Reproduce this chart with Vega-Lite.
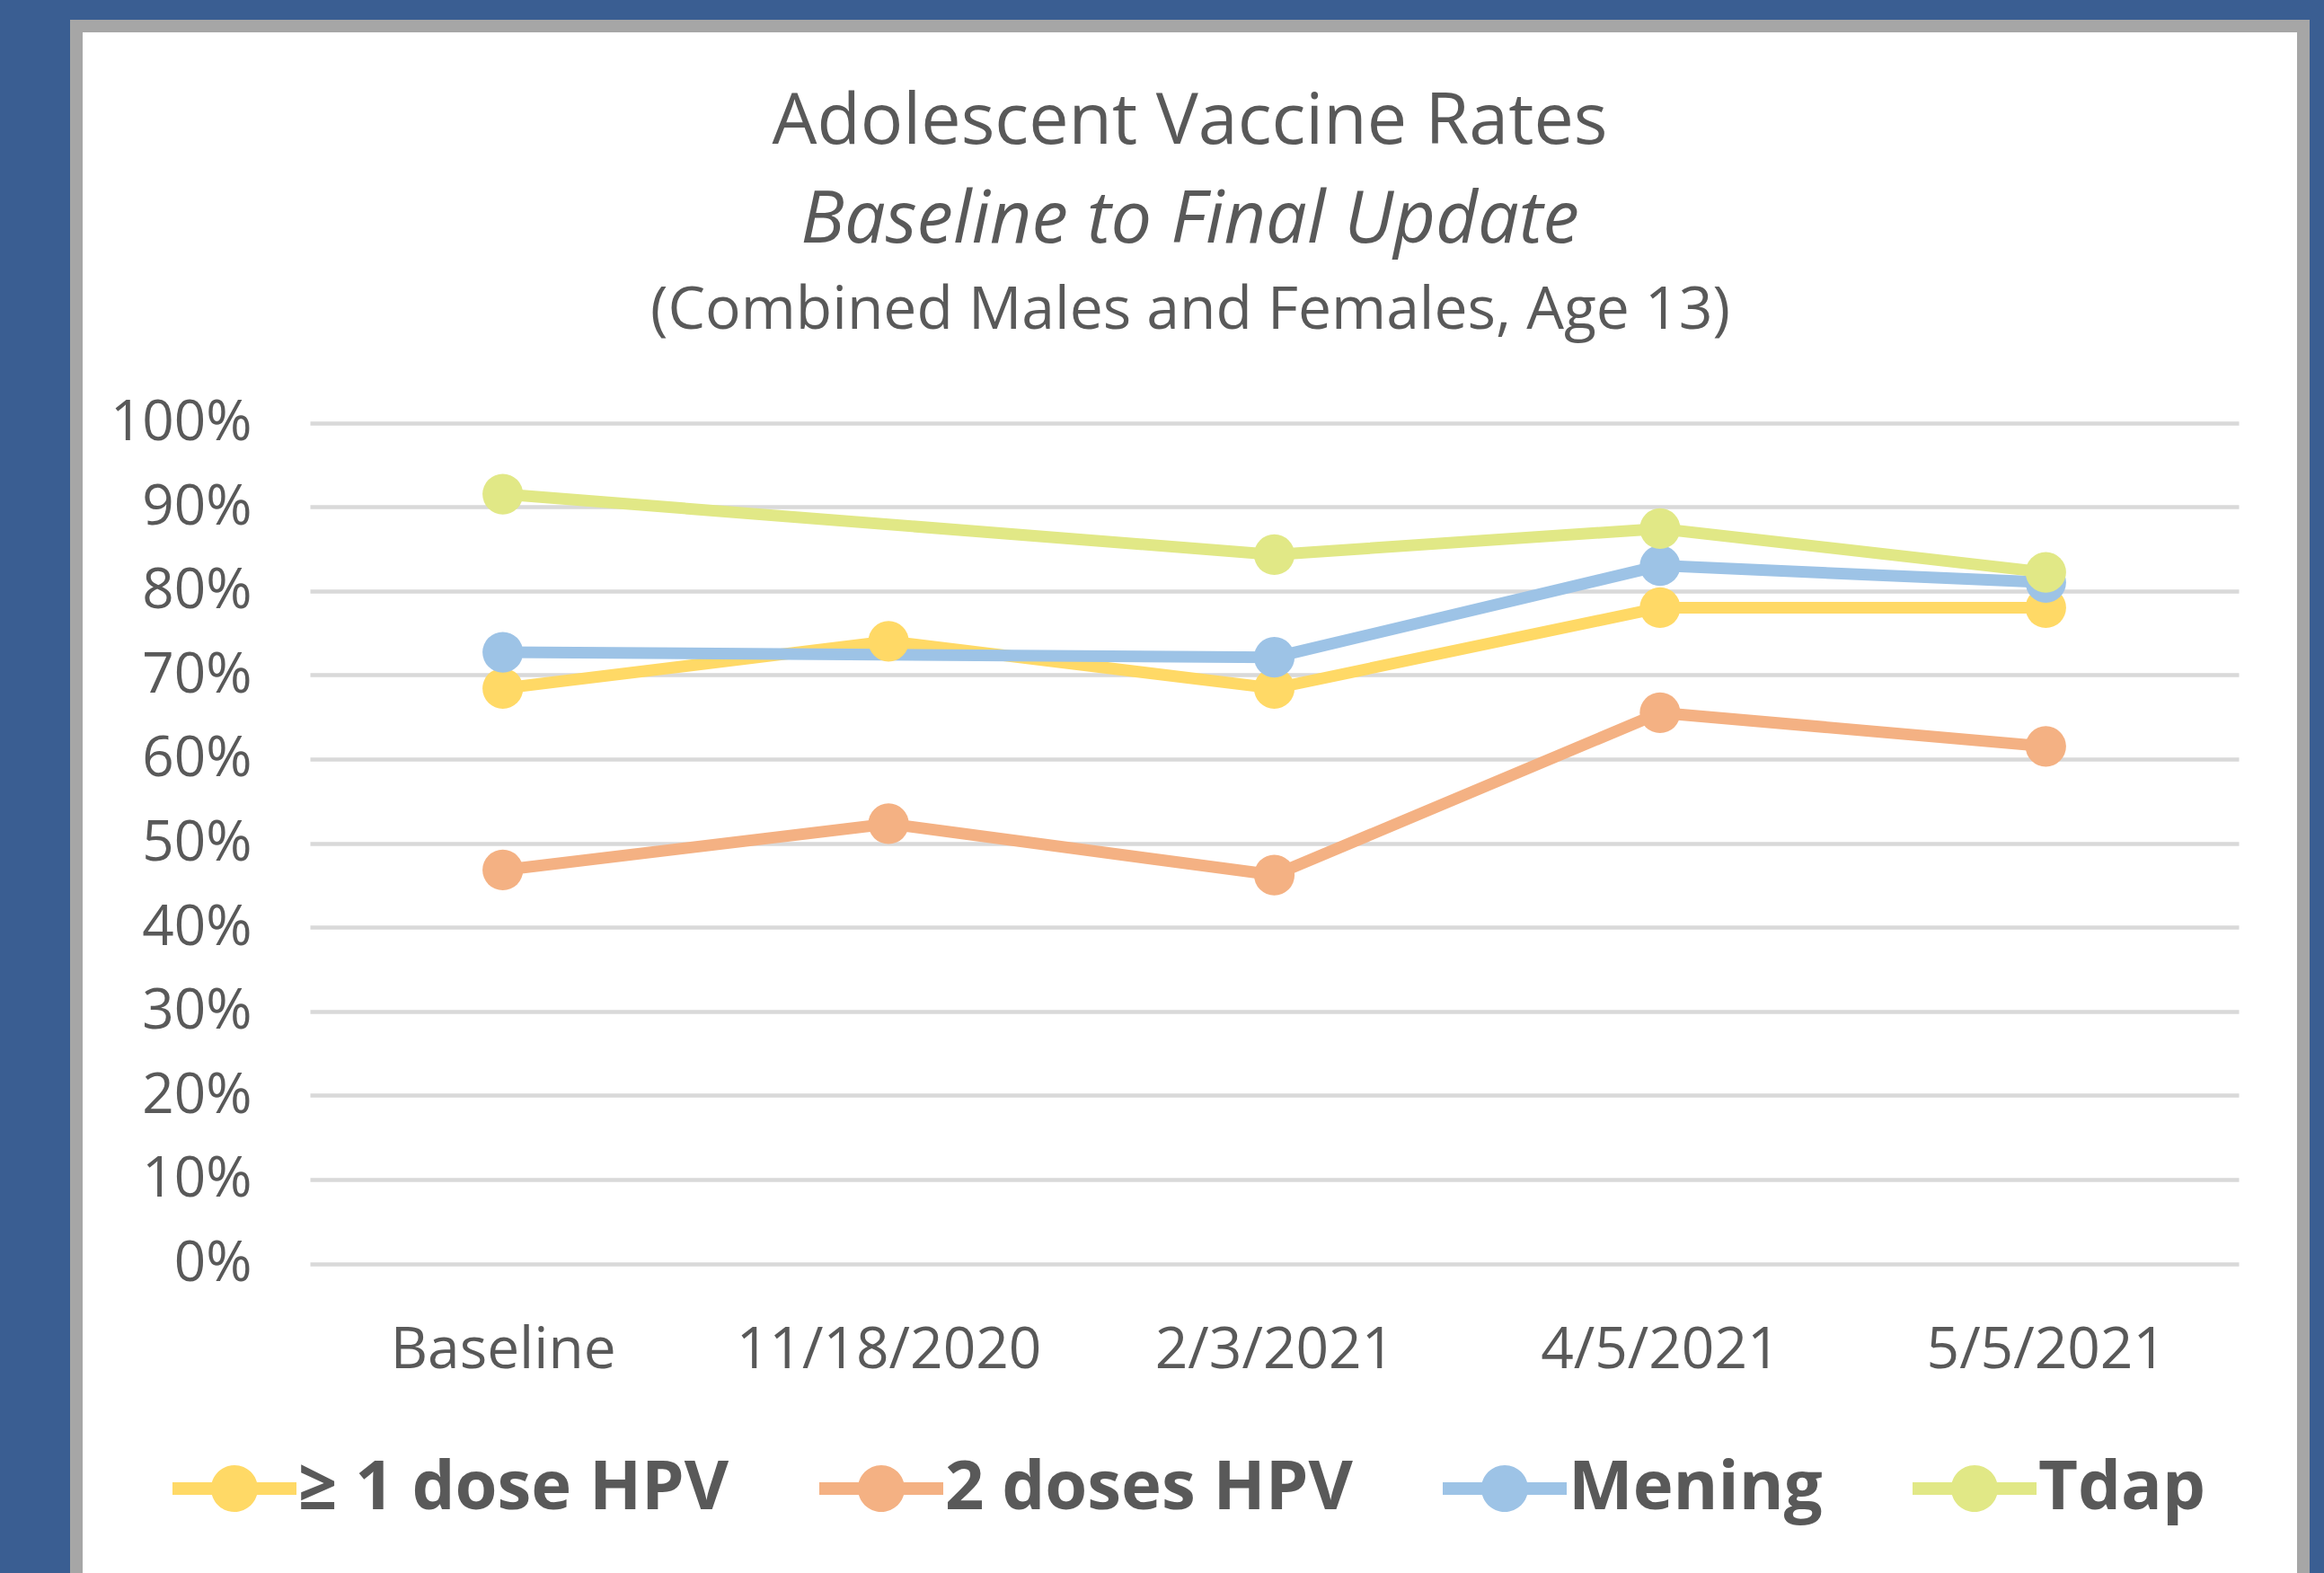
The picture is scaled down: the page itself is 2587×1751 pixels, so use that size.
{
  "$schema": "https://vega.github.io/schema/vega-lite/v6.json",
  "autosize": {"type": "none"},
  "width": 2479,
  "height": 1722,
  "padding": {"left": 85, "top": 29, "right": 23, "bottom": 0},
  "background": "#3A5E92",
  "title": {
    "text": "Adolescent Vaccine Rates",
    "subtitle": "Baseline to Final Update",
    "anchor": "middle",
    "frame": "group",
    "font": "Open Sans",
    "fontSize": 79,
    "fontWeight": "normal",
    "color": "#595959",
    "subtitleFont": "Open Sans",
    "subtitleFontSize": 81,
    "subtitleFontStyle": "italic",
    "subtitleColor": "#595959",
    "subtitlePadding": 29,
    "offset": -258
  },
  "data": {
    "values": [
      {"date": "Baseline", "series": "≥ 1 dose HPV", "rate": 0.684},
      {"date": "11/18/2020", "series": "≥ 1 dose HPV", "rate": 0.74},
      {"date": "2/3/2021", "series": "≥ 1 dose HPV", "rate": 0.684},
      {"date": "4/5/2021", "series": "≥ 1 dose HPV", "rate": 0.78},
      {"date": "5/5/2021", "series": "≥ 1 dose HPV", "rate": 0.78},
      {"date": "Baseline", "series": "2 doses HPV", "rate": 0.468},
      {"date": "11/18/2020", "series": "2 doses HPV", "rate": 0.523},
      {"date": "2/3/2021", "series": "2 doses HPV", "rate": 0.462},
      {"date": "4/5/2021", "series": "2 doses HPV", "rate": 0.655},
      {"date": "5/5/2021", "series": "2 doses HPV", "rate": 0.615},
      {"date": "Baseline", "series": "Mening", "rate": 0.727},
      {"date": "2/3/2021", "series": "Mening", "rate": 0.721},
      {"date": "4/5/2021", "series": "Mening", "rate": 0.83},
      {"date": "5/5/2021", "series": "Mening", "rate": 0.81},
      {"date": "Baseline", "series": "Tdap", "rate": 0.915},
      {"date": "2/3/2021", "series": "Tdap", "rate": 0.843},
      {"date": "4/5/2021", "series": "Tdap", "rate": 0.874},
      {"date": "5/5/2021", "series": "Tdap", "rate": 0.822}
    ]
  },
  "encoding": {
    "y": {
      "field": "rate",
      "type": "quantitative",
      "scale": {"domain": [0, 1], "range": [1377.5, 441.5], "nice": false, "zero": true},
      "axis": {
        "orient": "left",
        "offset": -195,
        "values": [0, 0.1, 0.2, 0.3, 0.4, 0.5, 0.6, 0.7, 0.8, 0.9, 1],
        "format": ".0%",
        "labelFont": "Open Sans",
        "labelFontSize": 62,
        "labelColor": "#595959",
        "labelPadding": 0,
        "labelLimit": 1000,
        "ticks": false,
        "tickSize": 0,
        "domain": false,
        "grid": true,
        "gridColor": "#D9D9D9",
        "gridWidth": 4.5,
        "title": null
      }
    },
    "color": {
      "field": "series",
      "type": "nominal",
      "scale": {
        "domain": ["≥ 1 dose HPV", "2 doses HPV", "Mening", "Tdap"],
        "range": ["#FFD966", "#F4B183", "#9DC3E6", "#E1E886"]
      },
      "legend": {
        "orient": "none",
        "direction": "horizontal",
        "legendX": 107,
        "legendY": 1559,
        "title": null,
        "symbolType": "M-1,-0.1L1,-0.1L1,0.1L-1,0.1Z M0.377,0A0.377,0.377,0,1,1,-0.377,0A0.377,0.377,0,1,1,0.377,0Z",
        "symbolSize": 19044,
        "symbolStrokeWidth": 0,
        "symbolOpacity": 1,
        "labelFont": "Open Sans",
        "labelFontSize": 76,
        "labelFontWeight": "bold",
        "labelColor": "#595959",
        "labelOffset": 2,
        "labelLimit": 1000,
        "columnPadding": 100,
        "padding": 0,
        "encode": {
          "symbols": {
            "update": {
              "fill": {"scale": "color", "field": "value"},
              "stroke": {"value": "transparent"},
              "opacity": {"value": 1}
            }
          }
        }
      }
    }
  },
  "layer": [
    {
      "mark": {"type": "line", "strokeWidth": 13},
      "encoding": {
        "x": {
          "field": "date",
          "type": "ordinal",
          "sort": ["Baseline", "11/18/2020", "2/3/2021", "4/5/2021", "5/5/2021"],
          "scale": {"type": "point", "range": [260, 2407], "padding": 0.5},
          "axis": {
            "orient": "bottom",
            "offset": -248,
            "labelAngle": 0,
            "labelFont": "Open Sans",
            "labelFontSize": 64,
            "labelColor": "#595959",
            "labelPadding": 0,
            "labelBaseline": "middle",
            "labelLimit": 1000,
            "labelOverlap": false,
            "ticks": false,
            "tickSize": 0,
            "domain": false,
            "grid": false,
            "title": null
          }
        }
      }
    },
    {
      "mark": {"type": "circle", "size": 2043, "opacity": 1},
      "encoding": {
        "x": {
          "field": "date",
          "type": "ordinal",
          "sort": ["Baseline", "11/18/2020", "2/3/2021", "4/5/2021", "5/5/2021"],
          "axis": {
            "orient": "top",
            "labels": false,
            "ticks": false,
            "domain": false,
            "grid": false,
            "title": "(Combined Males and Females, Age 13)",
            "titleFont": "Open Sans",
            "titleFontSize": 66,
            "titleFontWeight": "normal",
            "titleColor": "#595959",
            "titleX": 1239.5,
            "titleY": 316,
            "titleAlign": "center",
            "titleBaseline": "middle",
            "titleAngle": 0,
            "titleLimit": 3000
          }
        }
      }
    }
  ],
  "resolve": {"axis": {"x": "independent"}},
  "config": {
    "view": {
      "fill": "white",
      "stroke": "#A6A6A6",
      "strokeWidth": 14,
      "strokeDash": [4201, 2479, 1800]
    }
  }
}
